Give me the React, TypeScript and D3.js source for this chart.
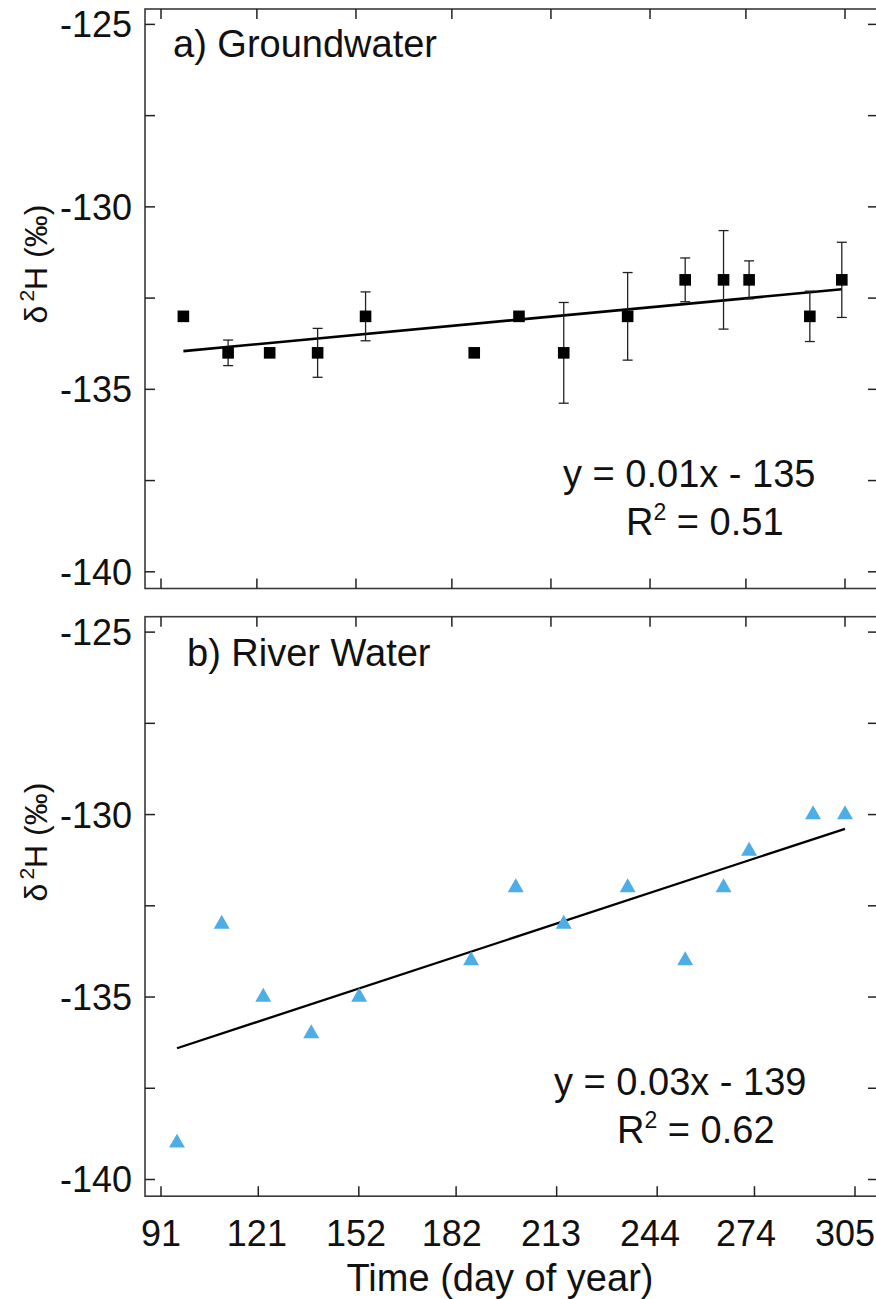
import React from "react";
import * as d3 from "d3";

// ---------- data ----------
const gwDay = [98, 112, 125, 140, 155, 189, 203, 217, 237, 255, 267, 275, 294, 304];
const gwD2H = [-133, -134, -134, -134, -133, -134, -133, -134, -133, -132, -132, -132, -133, -132];
const gwErr = [0, 0.35, 0.1, 0.67, 0.67, 0, 0.1, 1.38, 1.2, 0.6, 1.35, 0.52, 0.69, 1.03];

const rwDay = [96, 110, 123, 138, 153, 188, 202, 217, 237, 255, 267, 275, 295, 305];
const rwD2H = [-139, -133, -135, -136, -135, -134, -132, -133, -132, -134, -132, -131, -130, -130];

const xTicks = [91, 121, 152, 182, 213, 244, 274, 305];
const yTicks = [-125, -130, -135, -140];
const yMinorTicks = [-127.5, -132.5, -137.5];

const panelTitles = ["a) Groundwater", "b) River Water"];
const eqText = ["y = 0.01x - 135", "y = 0.03x - 139"];
const r2Text = ["0.51", "0.62"];

// ---------- layout ----------
const W = 876;
const H = 1299;
const frameLeft = 145;
const frameRight = 878;
const panelTop = [9, 616.7];
const panelH = 579.5;
const yLabelCenter = [264, 842];
const tickLen = 10;
const FONT = "'Liberation Sans', Arial, Helvetica, sans-serif";
const BLUE = "#4dade6";

const x = d3.scaleLinear().domain([91, 305]).range([161, 845]);
const xBottom = d3.scaleLinear().domain([91, 305]).range([161, 855]);

function fit(xs: number[], ys: number[]) {
  const mx = d3.mean(xs) as number;
  const my = d3.mean(ys) as number;
  let sxy = 0, sxx = 0;
  xs.forEach((v, i) => {
    sxy += (v - mx) * (ys[i] - my);
    sxx += (v - mx) * (v - mx);
  });
  const b = sxy / sxx;
  return { b, a: my - b * mx };
}

function Panel({ idx }: { idx: number }) {
  const top = panelTop[idx];
  const bottom = top + panelH;
  const y = d3.scaleLinear().domain([-125, -140]).range([top + 15.4, top + 562.8]);
  const xs = idx === 0 ? gwDay : rwDay;
  const ys = idx === 0 ? gwD2H : rwD2H;
  const { a, b } = fit(xs, ys);
  const x0 = d3.min(xs) as number;
  const x1 = d3.max(xs) as number;
  const line = d3.line<number>().x((d) => x(d)).y((d) => y(a + b * d));
  const tri = d3.symbol().type(d3.symbolTriangle).size(110)() as string;
  const xb = idx === 1 ? xBottom : x;
  const allY = [...yTicks, ...yMinorTicks];
  const y135 = y(-135);
  return (
    <g>
      {/* frame */}
      <rect x={frameLeft} y={top} width={frameRight - frameLeft} height={panelH} fill="none" stroke="#3a3a3a" strokeWidth={1.6} />
      {/* y ticks left and right */}
      {allY.map((t) => (
        <g key={"y" + t}>
          <line x1={frameLeft} x2={frameLeft + tickLen} y1={y(t)} y2={y(t)} stroke="#222" strokeWidth={1.5} />
          <line x1={frameRight - tickLen} x2={frameRight} y1={y(t)} y2={y(t)} stroke="#222" strokeWidth={1.5} />
        </g>
      ))}
      {/* x ticks top and bottom */}
      {xTicks.map((t) => (
        <g key={"x" + t}>
          <line x1={x(t)} x2={x(t)} y1={top} y2={top + tickLen} stroke="#222" strokeWidth={1.5} />
          <line x1={xb(t)} x2={xb(t)} y1={bottom} y2={bottom - tickLen} stroke="#222" strokeWidth={1.5} />
        </g>
      ))}
      {/* y tick labels */}
      {yTicks.map((t) => (
        <text key={"yl" + t} x={132} y={y(t)} dy="0.36em" textAnchor="end" fontSize={36} fontFamily={FONT} fill="#111">
          {t}
        </text>
      ))}
      {/* y axis title */}
      <text
        transform={`translate(${47},${yLabelCenter[idx]}) rotate(-90)`}
        textAnchor="middle"
        fontFamily={FONT}
        fontSize={32}
        fill="#111"
      >
        <tspan>δ</tspan>
        <tspan fontSize={21} dy={-13} dx={4}>2</tspan>
        <tspan dy={13}>H (‰)</tspan>
      </text>
      {/* panel title */}
      <text x={idx === 0 ? 173 : 187} y={top + (idx === 0 ? 47.5 : 49)} fontSize={38} fontFamily={FONT} fill="#111">
        {panelTitles[idx]}
      </text>
      {/* regression line */}
      <path d={line([x0, x1]) as string} fill="none" stroke="#000" strokeWidth={idx === 0 ? 2.6 : 2.3} />
      {/* markers */}
      {idx === 0
        ? xs.map((d, i) => (
            <g key={"p" + i}>
              {gwErr[i] > 0 && (
                <g stroke="#222" strokeWidth={1.3}>
                  <line x1={x(d)} x2={x(d)} y1={y(ys[i] - gwErr[i])} y2={y(ys[i] + gwErr[i])} />
                  <line x1={x(d) - 5} x2={x(d) + 5} y1={y(ys[i] - gwErr[i])} y2={y(ys[i] - gwErr[i])} />
                  <line x1={x(d) - 5} x2={x(d) + 5} y1={y(ys[i] + gwErr[i])} y2={y(ys[i] + gwErr[i])} />
                </g>
              )}
              <rect x={x(d) - 5.8} y={y(ys[i]) - 5.8} width={11.6} height={11.6} fill="#000" />
            </g>
          ))
        : xs.map((d, i) => (
            <path key={"t" + i} d={tri} transform={`translate(${x(d)},${y(ys[i])})`} fill={BLUE} />
          ))}
      {/* equation */}
      <text x={idx === 0 ? 563 : 554} y={y135 + 98} fontSize={38} fontFamily={FONT} fill="#111">
        {eqText[idx]}
      </text>
      <text x={idx === 0 ? 626 : 617} y={y135 + 145.5} fontSize={38} fontFamily={FONT} fill="#111">
        <tspan>R</tspan>
        <tspan fontSize={23} dy={-15}>2</tspan>
        <tspan dy={15}>{" = " + r2Text[idx]}</tspan>
      </text>
    </g>
  );
}

export default function App() {
  return (
    <svg
      width={W}
      height={H}
      viewBox={`0 0 ${W} ${H}`}
      style={{ position: "absolute", left: 0, top: 0, background: "#fff" }}
    >
      <rect width={W} height={H} fill="#fff" />
      <Panel idx={0} />
      <Panel idx={1} />
      {/* x tick labels (bottom panel only) */}
      {xTicks.map((t) => (
        <text key={"xl" + t} x={x(t)} y={1246} textAnchor="middle" fontSize={36} fontFamily={FONT} fill="#111">
          {t}
        </text>
      ))}
      <text x={500} y={1291} textAnchor="middle" fontSize={38} fontFamily={FONT} fill="#111">
        Time (day of year)
      </text>
    </svg>
  );
}
